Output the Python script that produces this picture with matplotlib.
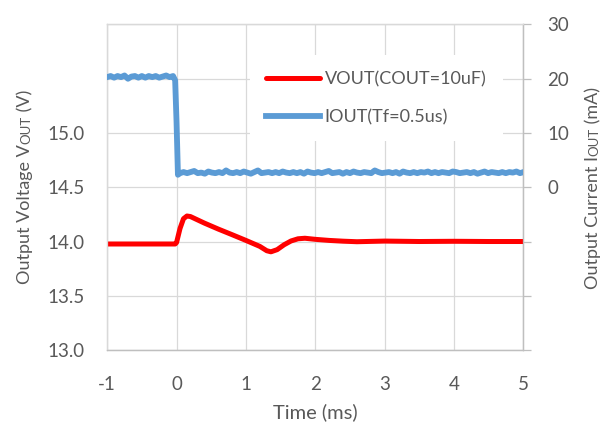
import matplotlib
matplotlib.use("Agg")
import matplotlib.pyplot as plt
from matplotlib.transforms import IdentityTransform
import numpy as np

plt.rcParams['font.family'] = ['Lato', 'DejaVu Sans']

# ---- data ----
vout_t = [-1.0, -0.02, 0.0, 0.05, 0.1, 0.15, 0.2, 0.4, 0.6, 0.8, 1.0, 1.2, 1.3, 1.36,
          1.45, 1.55, 1.65, 1.75, 1.85, 2.0, 2.2, 2.4, 2.6, 3.0, 3.5, 4.0, 4.5, 5.0]
vout_v = [13.977, 13.977, 13.99, 14.12, 14.21, 14.235, 14.23, 14.17, 14.115, 14.063,
          14.01, 13.955, 13.915, 13.905, 13.925, 13.97, 14.005, 14.025, 14.03, 14.02,
          14.01, 14.003, 13.998, 14.004, 14.0, 14.002, 14.0, 14.0]

iout_t_pre = [-1.0, -0.95, -0.9, -0.85, -0.8, -0.75, -0.7, -0.65, -0.6, -0.55, -0.5,
              -0.45, -0.4, -0.35, -0.3, -0.25, -0.2, -0.15, -0.1, -0.05, -0.02, 0.0, 0.02]
iout_v_pre = [20.3, 20.5, 20.2, 20.5, 20.3, 20.6, 20.0, 20.4, 20.5, 20.2, 20.5, 20.2,
              20.5, 20.3, 20.5, 20.2, 20.4, 20.6, 20.3, 20.5, 19.7, 12.0, 2.3]
iout_v_post = [2.6, 2.8, 2.6, 2.8, 3.0, 2.6, 2.7, 2.5, 2.9, 2.7, 2.6, 2.8, 2.6, 3.1,
               2.7, 2.6, 2.8, 2.6, 2.9, 2.7, 2.5, 2.8, 3.1, 2.6, 2.7, 2.8, 2.6, 2.8,
               2.6, 2.9, 2.7, 2.6, 2.8, 2.6, 2.8, 2.5, 2.9, 2.7, 2.6, 2.8, 2.6, 2.8,
               3.0, 2.6, 2.7, 2.8, 2.5, 2.8, 2.6, 2.9, 2.7, 2.6, 2.8, 2.7, 2.6, 3.1,
               2.8, 2.6, 2.7, 2.8, 2.6, 2.8, 2.5, 2.9, 2.7, 2.6, 2.8, 2.6, 2.8, 2.7,
               2.9, 2.6, 2.8, 2.6, 2.8, 2.7, 2.6, 2.9, 2.8, 2.6, 2.7, 2.8, 2.6, 2.8,
               2.5, 2.7, 2.9, 2.6, 2.8, 2.7, 2.6, 2.8, 2.6, 2.8, 2.7, 2.9, 2.6, 2.8]
iout_t_post = list(np.round(np.linspace(0.05, 5.0, len(iout_v_post)), 4))
iout_t = iout_t_pre + iout_t_post
iout_v = iout_v_pre + iout_v_post

x_ticks = [-1, 0, 1, 2, 3, 4, 5]
left_ticks = [13.0, 13.5, 14.0, 14.5, 15.0, 15.5, 16.0]
left_labels = ['13.0', '13.5', '14.0', '14.5', '15.0', '', '']
right_ticks = [-30, -20, -10, 0, 10, 20, 30]
right_labels = ['', '', '', '0', '10', '20', '30']

TXT = '#595959'
GRID = '#D9D9D9'
AX = '#BFBFBF'

W, H = 602, 428
fig = plt.figure(figsize=(W / 100, H / 100), dpi=100)
ax = fig.add_axes([0.178, 0.1822, 0.6916, 0.7606])
ax2 = ax.twinx()

l1, = ax.plot(vout_t, vout_v, color='#FF0000', lw=3.6, solid_capstyle='round',
              label='VOUT(COUT=10uF)', zorder=3)
l2, = ax2.plot(iout_t, iout_v, color='#5B9BD5', lw=4.2, solid_joinstyle='round',
               label='IOUT(Tf=0.5us)', zorder=3)

ax.set_xlim(-1, 5)
ax.set_ylim(13.0, 16.0)
ax2.set_ylim(-30, 30)

ax.set_xticks(x_ticks)
ax.set_xticklabels([str(v) for v in x_ticks])
ax.set_yticks(left_ticks)
ax.set_yticklabels(left_labels)
ax2.set_yticks(right_ticks)
ax2.set_yticklabels(right_labels)

ax.grid(True, color=GRID, lw=0.9)
ax.set_axisbelow(True)

ax.tick_params(axis='x', length=0, pad=19, labelsize=13.5, labelcolor=TXT)
ax.tick_params(axis='y', length=0, pad=16, labelsize=13.5, labelcolor=TXT)
ax2.tick_params(axis='y', direction='out', length=6, width=0.9, color=AX,
                pad=11, labelsize=13.5, labelcolor=TXT)

for a in (ax, ax2):
    a.spines['top'].set_color(GRID)
    a.spines['left'].set_color(GRID)
    a.spines['bottom'].set_color(AX)
    a.spines['right'].set_color(AX)
    for s in a.spines.values():
        s.set_linewidth(0.9)


def vertical_label(x_base_px, yc_px_from_top, parts):
    renderer = fig.canvas.get_renderer()
    texts, lens = [], []
    for s, fs in parts:
        t = fig.text(0, 0, s, rotation=90, rotation_mode='anchor', ha='left',
                     va='baseline', fontsize=fs, color=TXT,
                     transform=IdentityTransform())
        bb = t.get_window_extent(renderer)
        texts.append(t)
        lens.append(bb.height)
    y = (H - yc_px_from_top) - sum(lens) / 2
    for t, L in zip(texts, lens):
        t.set_position((x_base_px, y))
        y += L


vertical_label(30, 187, [('Output Voltage V', 13), ('OUT', 9.5), (' (V)', 13)])
vertical_label(598, 188, [('Output Current I', 13), ('OUT', 9.5), (' (mA)', 13)])

fig.text(0.523, 0.037, 'Time (ms)', ha='center', va='center', fontsize=14.5,
         color=TXT)

leg = ax2.legend(handles=[l1, l2], loc='center', bbox_to_anchor=(0.646, 0.774),
                 frameon=True, facecolor='white', edgecolor='none', framealpha=1,
                 fontsize=13, handlelength=3.0, handletextpad=0.25,
                 labelspacing=1.2, borderpad=0.9)
for t in leg.get_texts():
    t.set_color(TXT)

fig.savefig('out.png', dpi=100)
